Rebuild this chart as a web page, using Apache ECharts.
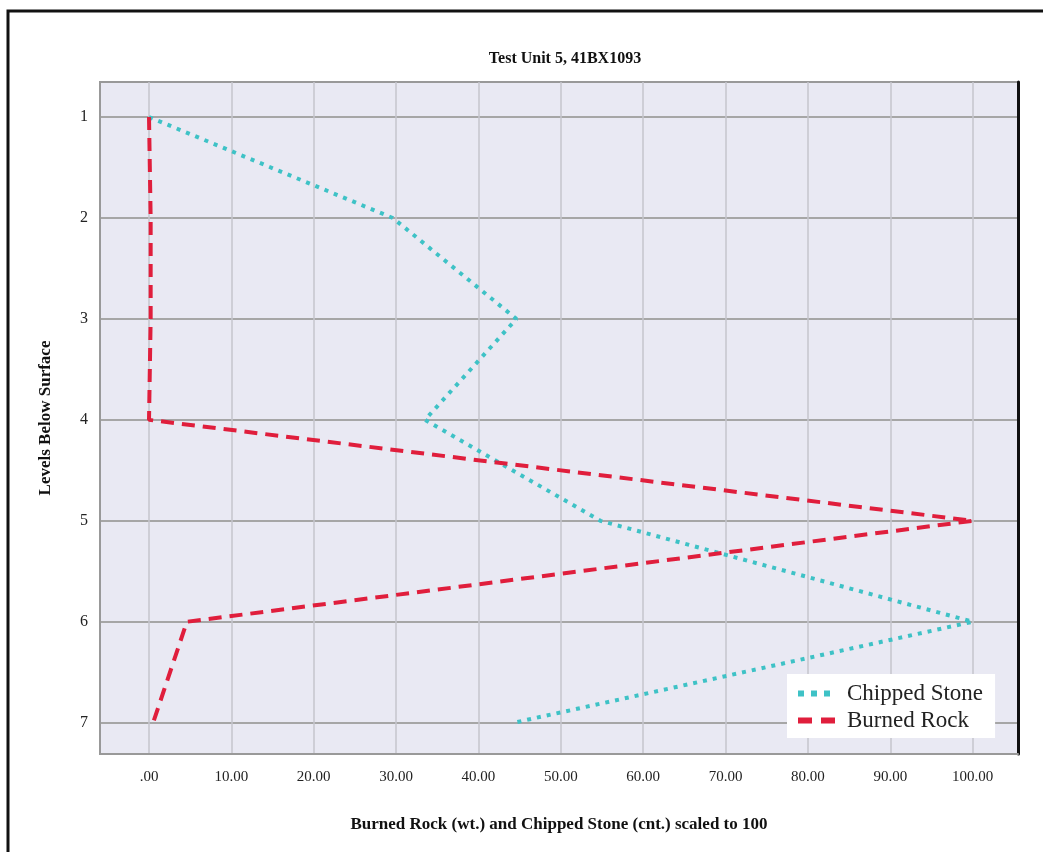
<!DOCTYPE html>
<html>
<head>
<meta charset="utf-8">
<script src="https://cdn.jsdelivr.net/npm/echarts@6/dist/echarts.min.js"></script>
<style>
  html, body { margin: 0; padding: 0; background: #fff; }
  #chart { width: 1043px; height: 852px; }
</style>
</head>
<body>
<div id="chart"></div>
<script>
// levels below surface (y) and the two series scaled to 100 (x)
const levels = [1, 2, 3, 4, 5, 6, 7]
const chippedStone = [0, 29.6, 44.6, 33.5, 54.8, 100, 44.3]
const burnedRock = [0, 0.2, 0.2, 0, 100, 4.6, 0.5]
const xTicks = [0, 10, 20, 30, 40, 50, 60, 70, 80, 90, 100]

const serif = '"Liberation Serif", "DejaVu Serif", serif'
const chart = echarts.init(document.getElementById('chart'))

const toPairs = vals => vals.map((v, i) => [v, levels[i]])

const option = {
  backgroundColor: '#fff',
  animation: false,
  title: {
    text: 'Test Unit 5, 41BX1093',
    left: 560, top: 46, textAlign: 'center',
    textStyle: { fontFamily: serif, fontSize: 16, fontWeight: 'bold', color: '#111' }
  },
  graphic: [{
    type: 'rect', silent: true, z: -1,
    shape: { x: 8, y: 11, width: 1100, height: 1000 },
    style: { fill: 'none', stroke: '#111', lineWidth: 3 }
  }],
  grid: {
    left: 100, right: 25, top: 82, bottom: 98,
    show: true, backgroundColor: '#e9e9f3', borderColor: '#999', borderWidth: 2
  },
  legend: {
    left: 787, top: 674, orient: 'vertical',
    backgroundColor: '#fff', padding: [8, 12, 6, 8], itemGap: 4,
    itemWidth: 38, itemHeight: 14,
    itemStyle: { opacity: 0 },
    textStyle: { fontFamily: serif, fontSize: 23, color: '#222', padding: [0, 0, 0, 6] },
    data: [
      { name: 'Chipped Stone', lineStyle: { width: 6, type: [6, 7] } },
      { name: 'Burned Rock', lineStyle: { width: 6, type: [14, 9] } }
    ]
  },
  xAxis: [{
    type: 'value', min: -5.95, max: 105.5,
    name: 'Burned Rock (wt.) and Chipped Stone (cnt.) scaled to 100',
    nameLocation: 'middle', nameGap: 62,
    nameTextStyle: { fontFamily: serif, fontSize: 17, fontWeight: 'bold', color: '#111' },
    axisLine: { show: true, onZero: false, lineStyle: { color: '#999', width: 2 } },
    axisTick: { show: false, customValues: xTicks },
    axisLabel: {
      customValues: xTicks, margin: 16,
      fontFamily: serif, fontSize: 15, color: '#222',
      formatter: v => v === 0 ? '.00' : v.toFixed(2)
    },
    splitLine: { show: true, lineStyle: { color: '#c4c4cc', width: 1.5 } }
  }],
  yAxis: [{
    type: 'value', min: 0.653, max: 7.31, inverse: true,
    name: 'Levels Below Surface',
    nameLocation: 'middle', nameGap: 46, nameRotate: 90,
    nameTextStyle: { fontFamily: serif, fontSize: 17, fontWeight: 'bold', color: '#111' },
    axisLine: { show: true, onZero: false, lineStyle: { color: '#999', width: 2 } },
    axisTick: { show: false, customValues: levels },
    axisLabel: {
      customValues: levels, margin: 12,
      fontFamily: serif, fontSize: 16, color: '#222'
    },
    splitLine: { show: true, lineStyle: { color: '#a6a6a6', width: 2 } }
  }, {
    type: 'value', min: 0.653, max: 7.31, inverse: true, position: 'right',
    axisLine: { show: true, onZero: false, lineStyle: { color: '#111', width: 3 } },
    axisTick: { show: false }, axisLabel: { show: false }, splitLine: { show: false }
  }],
  series: [
    {
      name: 'Chipped Stone', type: 'line', symbol: 'none',
      data: toPairs(chippedStone),
      lineStyle: { color: '#3ec2c6', width: 4, type: [4, 6] },
      itemStyle: { color: '#3ec2c6' }
    },
    {
      name: 'Burned Rock', type: 'line', symbol: 'none',
      data: toPairs(burnedRock),
      lineStyle: { color: '#e01e3c', width: 4, type: [13, 8] },
      itemStyle: { color: '#e01e3c' }
    }
  ]
}

chart.setOption(option)
</script>
</body>
</html>
